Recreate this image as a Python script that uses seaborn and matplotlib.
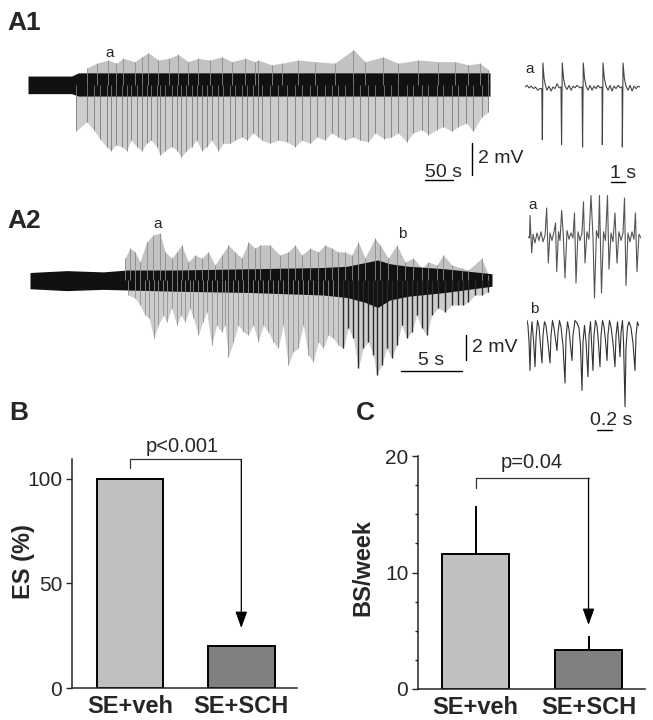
import matplotlib
matplotlib.use('Agg')
import matplotlib.pyplot as plt
from matplotlib.ticker import MultipleLocator
import seaborn as sns
import pandas as pd

# ---------------- bar chart data ----------------
groups = ['SE+veh', 'SE+SCH']
es_pct = [100, 20]
bs_week = [11.6, 3.35]
bs_sem = [4.1, 1.2]
p_es = 'p<0.001'
p_bs = 'p=0.04'
bar_colors = ['#c0c0c0', '#808080']

# ---------------- A1 trace (s, mV) ----------------
a1_spk_t = [85, 105, 117, 129, 141, 148, 157, 167, 176, 184, 194, 203, 212, 220, 230, 236,
            245, 257, 266, 274, 283, 292, 301, 310, 319, 328, 340, 349, 361, 370, 382, 391,
            402, 411, 417, 432, 447, 462, 477, 489, 504, 516, 530, 542, 554, 566, 581, 593,
            608, 620, 635, 649, 661, 676, 688, 703, 715, 730, 741, 757, 768, 783, 795, 810, 822]
a1_spk_lo = [-2.9, -2.3, -2.8, -3.4, -3.9, -4.1, -3.75, -3.85, -4.1, -3.45, -3.85, -4.1, -3.65,
             -3.45, -3.85, -4.4, -4.1, -3.85, -4.1, -4.5, -4.1, -3.85, -3.45, -4.1, -3.85, -3.45,
             -4.1, -3.65, -3.65, -3.45, -3.25, -3.45, -3.0, -3.25, -3.45, -3.65, -3.45, -3.55,
             -3.85, -3.45, -3.65, -3.25, -3.45, -3.0, -3.25, -3.45, -3.25, -3.45, -3.55, -3.0,
             -3.35, -3.25, -3.0, -3.55, -3.0, -2.8, -3.1, -2.8, -2.6, -2.9, -2.6, -2.4, -2.9,
             -2.0, -1.7]
a1_up_t = [105, 123, 143, 158, 170, 191, 203, 215, 233, 251, 268, 286, 304, 325, 346, 364, 388,
           405, 411, 435, 453, 483, 513, 548, 581, 602, 634, 661, 697, 733, 763, 786, 807, 822]
a1_up_hi = [1.05, 1.35, 1.55, 1.35, 1.65, 1.45, 1.75, 2.0, 1.55, 1.65, 1.9, 1.45, 1.65, 1.55,
            1.75, 1.45, 1.65, 1.45, 1.55, 1.25, 1.35, 1.55, 1.45, 1.35, 2.2, 1.45, 1.75, 1.35,
            1.55, 1.45, 1.45, 1.25, 1.35, 0.95]
a1_core_t = [0, 78, 90, 825]
a1_core_hi = [0.55, 0.55, 0.75, 0.75]
a1_core_lo = [-0.55, -0.55, -0.7, -0.7]

# A1 inset a (s, mV)
a1_ins_t = [0, 0.15, 0.3, 0.45, 0.6, 0.75, 0.9, 1.05, 1.2,
            1.24, 1.28, 1.36, 1.46, 1.57, 1.71, 1.86, 2.0, 2.14, 2.29, 2.43, 2.57,
            2.61, 2.66, 2.75, 2.86, 3.0, 3.14, 3.29, 3.43, 3.57, 3.71, 3.93, 4.07,
            4.11, 4.16, 4.25, 4.36, 4.5, 4.64, 4.79, 4.93, 5.07, 5.21, 5.36, 5.5,
            5.52, 5.57, 5.66, 5.79, 5.93, 6.07, 6.21, 6.36, 6.5, 6.64, 6.79, 6.93,
            6.95, 7.0, 7.09, 7.21, 7.36, 7.5, 7.64, 7.79, 7.93, 8.07, 8.21]
a1_ins_v = [0, 0.1, -0.05, 0.05, -0.1, 0, -0.2, -0.1, -0.1,
            -3.3, 1.5, 0.55, 0.1, -0.2, 0.05, -0.25, 0, -0.1, 0.2, -0.05, 0,
            -3.6, 1.5, 0.55, 0.05, -0.15, 0.1, -0.2, 0.05, -0.05, 0.1, -0.05, 0,
            -3.75, 1.5, 0.55, 0.05, -0.2, 0.1, -0.2, 0.05, -0.1, 0.1, -0.05, 0,
            -3.6, 1.5, 0.55, 0.05, -0.2, 0.1, -0.25, 0.05, -0.1, 0.1, -0.05, 0,
            -3.75, 1.5, 0.55, 0.05, -0.2, 0.1, -0.25, 0.05, -0.1, 0.05, 0]

# ---------------- A2 trace (s, mV) ----------------
a2_spk_t = [8.06, 8.61, 9.02, 9.43, 9.75, 10.16, 10.52, 10.93, 11.2, 11.61, 12.02, 12.38, 12.7,
            13.11, 13.39, 13.8, 14.15, 14.48, 14.89, 15.3, 15.71, 15.98, 16.26, 16.67, 17.08,
            17.49, 17.9, 18.3, 18.71, 19.13, 19.54, 19.94, 20.35, 20.76, 21.17, 21.58, 21.99,
            22.4, 22.81, 23.22, 23.63, 24.04, 24.45, 24.86, 25.27, 25.68, 26.09, 26.5, 26.91,
            27.32, 27.73, 28.14, 28.41, 28.83, 29.24, 29.65, 30.06, 30.47, 30.88, 31.29, 31.7,
            32.11, 32.52, 32.93, 33.47, 34.02, 34.57, 35.11, 35.52, 35.93, 36.48, 37.02, 37.57]
a2_spk_lo = [-1.2, -1.45, -2.0, -2.8, -3.05, -4.65, -3.6, -2.8, -3.35, -2.25, -3.6, -2.8, -3.35,
             -2.25, -3.05, -4.4, -3.35, -2.55, -5.2, -3.6, -4.15, -3.6, -6.15, -4.95, -3.6,
             -4.15, -4.4, -3.6, -4.95, -3.6, -4.15, -4.95, -5.45, -3.6, -6.8, -5.75, -5.45,
             -3.6, -6.0, -6.55, -4.95, -5.45, -4.4, -4.65, -5.2, -5.45, -3.85, -4.65, -7.05,
             -5.45, -4.95, -6.0, -7.6, -6.8, -5.45, -6.25, -5.2, -3.6, -4.65, -4.15, -2.8,
             -3.85, -4.4, -2.8, -2.25, -2.55, -2.0, -2.0, -2.0, -1.75, -1.2, -1.2, -0.95]
a2_up_t = [7.79, 8.2, 8.61, 9.02, 9.56, 10.11, 10.66, 11.07, 11.61, 12.02, 12.43, 12.98, 13.52,
           14.07, 14.61, 15.16, 15.71, 16.26, 16.8, 17.35, 17.9, 18.44, 18.85, 19.67, 20.49,
           21.17, 21.72, 22.27, 22.95, 23.63, 24.18, 24.73, 25.27, 25.82, 26.37, 26.91, 27.46,
           28.28, 28.69, 29.37, 30.06, 30.74, 31.42, 32.11, 32.65, 33.34, 33.88, 34.57, 35.39,
           35.93, 37.02, 37.57]
a2_up_hi = [1.75, 2.55, 2.25, 1.45, 3.05, 3.6, 3.75, 2.25, 1.75, 2.25, 2.8, 1.45, 2.0, 1.75,
            2.25, 1.2, 2.0, 2.8, 2.25, 1.75, 3.05, 2.55, 2.8, 2.8, 2.0, 2.25, 2.8, 2.0, 2.55,
            2.25, 2.8, 2.55, 2.25, 2.25, 2.0, 3.05, 1.75, 3.35, 2.8, 1.75, 2.8, 1.45, 1.75,
            0.95, 1.45, 1.2, 2.0, 1.2, 0.95, 0.8, 1.75, 0.4]
a2_core_t = [0, 3, 6, 8, 12, 18, 24, 26, 27.5, 28.5, 29.5, 31, 34, 37.87]
a2_core_hi = [0.6, 0.75, 0.65, 0.8, 0.8, 0.9, 1.0, 1.1, 1.4, 1.6, 1.3, 1.1, 0.9, 0.5]
a2_core_lo = [-0.7, -0.85, -0.75, -0.8, -0.9, -1.0, -1.2, -1.4, -1.8, -2.2, -1.6, -1.3, -1.0, -0.5]

# A2 inset a (ms, mV)
a2a_ms = [0, 20, 27, 49, 67, 93, 120, 147, 173, 200, 227, 249, 271, 293, 320, 347, 367, 383,
          407, 427, 449, 471, 493, 520, 547, 573, 600, 620, 640, 667, 693, 720, 740, 760, 787,
          813, 840, 867, 887, 913, 940, 953, 980, 1007, 1033, 1060, 1080, 1107, 1133, 1160,
          1187, 1213, 1240, 1267, 1287, 1307, 1333, 1360, 1387, 1413, 1433, 1453, 1480, 1507]
a2a_v = [0.1, 0.0, 1.8, -1.2, 0.3, -0.4, 0.4, -0.2, 0.5, -0.3, 0.2, 2.4, -2.0, 0.4, -0.2, 0.5,
         1.2, -2.7, 0.5, -0.2, 2.2, 0.2, -3.2, 0.6, -0.1, 0.4, 0.0, 2.0, -3.6, 0.5, -0.2, 0.4,
         2.9, -2.0, 0.5, -0.1, 3.4, 0.0, -4.8, 0.6, 0.0, 3.4, -4.4, 0.5, -0.2, 3.4, -2.5, 0.4,
         -0.3, 2.0, -2.0, 0.5, -0.2, 0.4, 3.2, -3.8, 0.4, -0.3, 0.5, -0.1, 2.0, -2.7, 0.3, 0.0]

# A2 inset b (ms, mV)
a2b_ms = [0, 13, 27, 40, 53, 67, 87, 107, 120, 140, 160, 180, 200, 213, 233, 253, 280, 307,
          320, 340, 360, 380, 400, 413, 433, 453, 480, 507, 520, 540, 560, 580, 600, 613, 640,
          667, 693, 713, 733, 747, 767, 787, 813, 827, 847, 860, 880, 893, 913, 933, 953, 973,
          987, 1007, 1027, 1047, 1067, 1080, 1100, 1120, 1147, 1173, 1187, 1207, 1227, 1240,
          1253, 1273, 1287, 1307, 1320, 1340, 1360, 1387, 1413, 1440, 1453, 1473, 1487]
a2b_v = [0.2, -0.2, -1.5, -3.8, -1.0, 0.1, -1.4, -3.5, -1.2, 0.2, -0.3, -1.8, -3.2, -1.0, 0.1,
         -0.2, -1.6, -3.2, -1.0, 0.2, -0.4, -1.3, -2.2, -0.8, 0.2, -0.3, -1.8, -4.8, -1.2, 0.1,
         -0.5, -1.8, -3.0, -1.0, 0.2, 0.0, -0.4, -1.8, -5.4, -1.5, -0.2, -1.5, -4.3, -1.0, 0.1,
         -1.5, -3.8, -1.0, 0.2, -0.2, -1.6, -3.5, -1.0, 0.2, -0.3, -1.4, -3.0, -0.9, 0.2, -0.3,
         -1.6, -3.5, -1.0, 0.1, -1.4, -2.7, -0.8, 0.2, -1.5, -6.7, -2.0, -0.3, 0.1, -0.4, -1.6,
         -3.8, -1.0, 0.1, -0.2]

sns.set_style('ticks')
plt.rcParams['font.family'] = ['Liberation Sans', 'DejaVu Sans']

W, H = 653, 720
fig = plt.figure(figsize=(W / 100, H / 100), dpi=100)


def px_axes(x0, y0, x1, y1):
    # place an axes using pixel edges of the figure (top-left origin)
    return fig.add_axes([x0 / W, 1 - y1 / H, (x1 - x0) / W, (y1 - y0) / H])


def draw_trace(ax, core_t, core_lo, core_hi, lo_t, lo_v, up_t, up_v, colors, widths=0.6):
    ax.fill_between(lo_t, lo_v, 0, color='#cdcdcd', lw=0)
    ax.fill_between(up_t, 0, up_v, color='#c2c2c2', lw=0)
    ax.vlines(lo_t, lo_v, 0, colors=colors, lw=widths)
    ax.vlines(up_t, 0, up_v, colors='#8a8a8a', lw=0.6)
    ax.fill_between(core_t, core_lo, core_hi, color='#111111', lw=0)
    ax.axis('off')


# ---- A1 ----
ax1 = px_axes(28, 40, 490, 185)
draw_trace(ax1, a1_core_t, a1_core_lo, a1_core_hi, a1_spk_t, a1_spk_lo,
           a1_up_t, a1_up_hi, '#7a7a7a')
ax1.set_xlim(0, 825)
ax1.set_ylim(-6.25, 2.8)
ax1.text(139, 1.75, 'a', fontsize=11, ha='left', va='baseline')
ax1.plot([709, 759], [-5.94, -5.94], color='black', lw=1, clip_on=False)
ax1.text(709, -5.75, '50 s', fontsize=14, ha='left', va='baseline', clip_on=False)
ax1.plot([793, 793], [-3.6, -5.6], color='black', lw=1, clip_on=False)
ax1.text(804, -4.6, '2 mV', fontsize=14, ha='left', va='center', clip_on=False)

ax1i = px_axes(525, 55, 640, 155)
ax1i.plot(a1_ins_t, a1_ins_v, color='#444444', lw=0.8)
ax1i.set_xlim(0, 8.21)
ax1i.set_ylim(-4.25, 2.0)
ax1i.axis('off')
ax1i.text(0.05, 0.9, 'a', fontsize=11, ha='left', va='baseline')
ax1i.plot([6.14, 7.14], [-5.94, -5.94], color='black', lw=1, clip_on=False)
ax1i.text(6.1, -5.69, '1 s', fontsize=14, ha='left', va='baseline', clip_on=False)

# ---- A2 ----
ax2 = px_axes(30, 215, 492, 385)
# late part of the seizure is drawn darker in the original
a2_late = [t > 25.3 for t in a2_spk_t]
a2_cols = ['#2a2a2a' if late else '#8f8f8f' for late in a2_late]
a2_lws = [1.0 if late else 0.6 for late in a2_late]
draw_trace(ax2, a2_core_t, a2_core_lo, a2_core_hi, a2_spk_t, a2_spk_lo,
           a2_up_t, a2_up_hi, a2_cols, a2_lws)
ax2.set_xlim(0, 37.87)
ax2.set_ylim(-8.4, 5.2)
ax2.text(10.1, 4.16, 'a', fontsize=11, ha='left', va='baseline')
ax2.text(30.2, 3.36, 'b', fontsize=11, ha='left', va='baseline')
ax2.plot([30.4, 35.4], [-7.3, -7.3], color='black', lw=1, clip_on=False)
ax2.text(32.9, -6.8, '5 s', fontsize=14, ha='center', va='baseline', clip_on=False)
ax2.plot([35.75, 35.75], [-4.4, -6.4], color='black', lw=1, clip_on=False)
ax2.text(36.2, -5.4, '2 mV', fontsize=14, ha='left', va='center', clip_on=False)

ax2a = px_axes(528, 195, 641, 300)
ax2a.plot(a2a_ms, a2a_v, color='#555555', lw=0.8)
ax2a.set_xlim(0, 1507)
ax2a.set_ylim(-4.96, 3.44)
ax2a.axis('off')
ax2a.text(0, 2.32, 'a', fontsize=11, ha='left', va='baseline')

ax2b = px_axes(527, 300, 641, 415)
ax2b.plot(a2b_ms, a2b_v, color='#333333', lw=0.8)
ax2b.set_xlim(0, 1520)
ax2b.set_ylim(-7.36, 1.84)
ax2b.axis('off')
ax2b.text(40, 0.8, 'b', fontsize=11, ha='left', va='baseline')
ax2b.plot([933, 1133], [-8.56, -8.56], color='black', lw=1, clip_on=False)
ax2b.text(840, -8.16, '0.2 s', fontsize=14, ha='left', va='baseline', clip_on=False)

# ---- B and C bar charts ----
df = pd.DataFrame({'group': groups, 'es': es_pct, 'bs': bs_week, 'sem': bs_sem})


def style_bar_axes(ax):
    sns.despine(ax=ax)
    for s in ['left', 'bottom']:
        ax.spines[s].set_linewidth(1.1)
    ax.tick_params(axis='y', labelsize=15, length=4, width=1, pad=3)
    ax.tick_params(axis='x', length=0, pad=5)
    for lab in ax.get_xticklabels():
        lab.set_fontsize(17)
        lab.set_fontweight('bold')
    ax.set_xlabel('')


axB = px_axes(72, 459, 297, 688)
sns.barplot(data=df, x='group', y='es', hue='group', palette=bar_colors, width=0.6,
            edgecolor='black', linewidth=1.4, legend=False, ax=axB)
axB.set_xlim(-0.52, 1.5)
axB.set_ylim(0, 109.5)
axB.set_yticks([0, 50, 100])
style_bar_axes(axB)
axB.set_ylabel('ES (%)', fontsize=17, fontweight='bold')
axB.yaxis.set_label_coords(-0.165, 0.55)
axB.plot([0, 0, 1], [105, 109.3, 109.3], color='#333333', lw=0.9, clip_on=False)
axB.annotate('', xy=(1, 28.7), xytext=(1, 109.3), annotation_clip=False,
             arrowprops=dict(arrowstyle='-|>,head_length=0.5,head_width=0.18',
                             mutation_scale=20, color='black', lw=0.9,
                             shrinkA=0, shrinkB=0))
axB.text(0.47, 115.3, p_es, fontsize=14.5, ha='center', va='center')

axC = px_axes(418, 456, 645, 689)
sns.barplot(data=df, x='group', y='bs', hue='group', palette=bar_colors, width=0.6,
            edgecolor='black', linewidth=1.4, legend=False, ax=axC)
axC.errorbar([0, 1], df['bs'], yerr=[[0, 0], df['sem']], fmt='none', ecolor='black',
             elinewidth=1.4, capsize=0, zorder=1)
axC.set_xlim(-0.51, 1.5)
axC.set_ylim(0, 20)
axC.set_yticks([0, 10, 20])
axC.yaxis.set_minor_locator(MultipleLocator(2.5))
axC.tick_params(axis='y', which='minor', length=2.5, width=1)
style_bar_axes(axC)
axC.set_ylabel('BS/week', fontsize=17, fontweight='bold')
axC.yaxis.set_label_coords(-0.19, 0.52)
axC.plot([0, 0, 1], [17.25, 18.1, 18.1], color='#333333', lw=0.9, clip_on=False)
axC.annotate('', xy=(1, 5.5), xytext=(1, 18.1), annotation_clip=False,
             arrowprops=dict(arrowstyle='-|>,head_length=0.5,head_width=0.18',
                             mutation_scale=20, color='black', lw=0.9,
                             shrinkA=0, shrinkB=0))
axC.text(0.5, 19.4, p_bs, fontsize=14.5, ha='center', va='center')

# panel letters
for lab, x, y in [('A1', 7, 30), ('A2', 7, 228), ('B', 9, 420), ('C', 356, 420)]:
    fig.text(x / W, 1 - y / H, lab, fontsize=19, fontweight='bold', ha='left', va='baseline')

fig.savefig('out.png', dpi=100)
